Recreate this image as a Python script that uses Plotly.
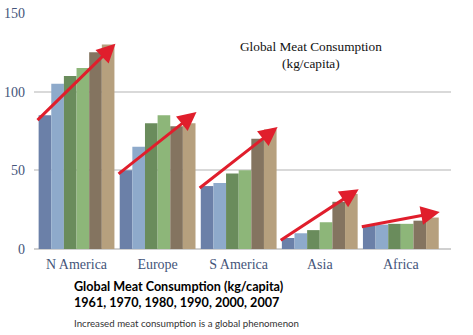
import plotly.graph_objects as go

regions = ["N America", "Europe", "S America", "Asia", "Africa"]
years = ["1961", "1970", "1980", "1990", "2000", "2007"]
v1961 = [85, 50, 40, 7, 15]
v1970 = [105, 65, 42, 10, 15.5]
v1980 = [110, 80, 48, 12, 16]
v1990 = [115, 85, 50, 17, 16]
v2000 = [125, 78, 70, 30, 18]
v2007 = [130, 80, 76, 35, 20]
series = [v1961, v1970, v1980, v1990, v2000, v2007]
colors = ["#6b80a8", "#8eaacb", "#6a8c5c", "#8db679", "#847460", "#b6a07e"]
trend_start = [81, 47, 38, 5, 14]
trend_end = [130.5, 87, 77.5, 38, 23.5]
y_ticks = [0, 50, 100, 150]

fig = go.Figure()
for yr, vals, col in zip(years, series, colors):
    fig.add_trace(go.Bar(x=regions, y=vals, name=yr, marker=dict(color=col, line=dict(width=0))))

for i in range(len(regions)):
    fig.add_annotation(
        x=i + 0.48, y=trend_end[i], ax=i - 0.5, ay=trend_start[i],
        xref="x", yref="y", axref="x", ayref="y",
        showarrow=True, arrowhead=2, arrowsize=1.25, arrowwidth=3,
        arrowcolor="#e01e2c", text="",
    )

fig.add_annotation(
    text="Global Meat Consumption<br>(kg/capita)",
    xref="paper", yref="paper", x=(311 - 34) / 417, y=1 - (55 - 13) / 236,
    showarrow=False, font=dict(family="Liberation Serif", size=13.3, color="#111111"),
    align="center", xanchor="center", yanchor="middle",
)
fig.add_annotation(
    text="<b>Global Meat Consumption (kg/capita)<br>1961, 1970, 1980, 1990, 2000, 2007</b>",
    xref="paper", yref="paper", x=(72 - 34) / 417, y=1 - (294 - 13) / 236,
    showarrow=False, font=dict(family="Lato", size=12.6, color="#000000"),
    align="left", xanchor="left", yanchor="middle",
)
fig.add_annotation(
    text="Increased meat consumption is a global phenomenon",
    xref="paper", yref="paper", x=(72 - 34) / 417, y=1 - (323 - 13) / 236,
    showarrow=False, font=dict(family="Lato", size=9.7, color="#333333"),
    align="left", xanchor="left", yanchor="middle",
)

fig.update_layout(
    width=473, height=335,
    margin=dict(l=34, r=22, t=13, b=86),
    paper_bgcolor="white", plot_bgcolor="white",
    barmode="group", bargap=0.065, bargroupgap=0,
    showlegend=False,
    xaxis=dict(
        showgrid=False, showline=False, zeroline=False, ticks="", automargin=False,
        ticklabelstandoff=5,
        tickfont=dict(family="Liberation Serif", size=14, color="#45557a"),
    ),
    yaxis=dict(
        range=[0, 150], tickvals=y_ticks, showgrid=True, gridcolor="#d9d9d9", gridwidth=1.5,
        zeroline=True, zerolinecolor="#d0d0d0", zerolinewidth=1.5, showline=False, ticks="",
        ticklabelstandoff=8, automargin=False,
        tickfont=dict(family="Liberation Serif", size=14, color="#45557a"),
    ),
)

fig.write_html("out.html")
